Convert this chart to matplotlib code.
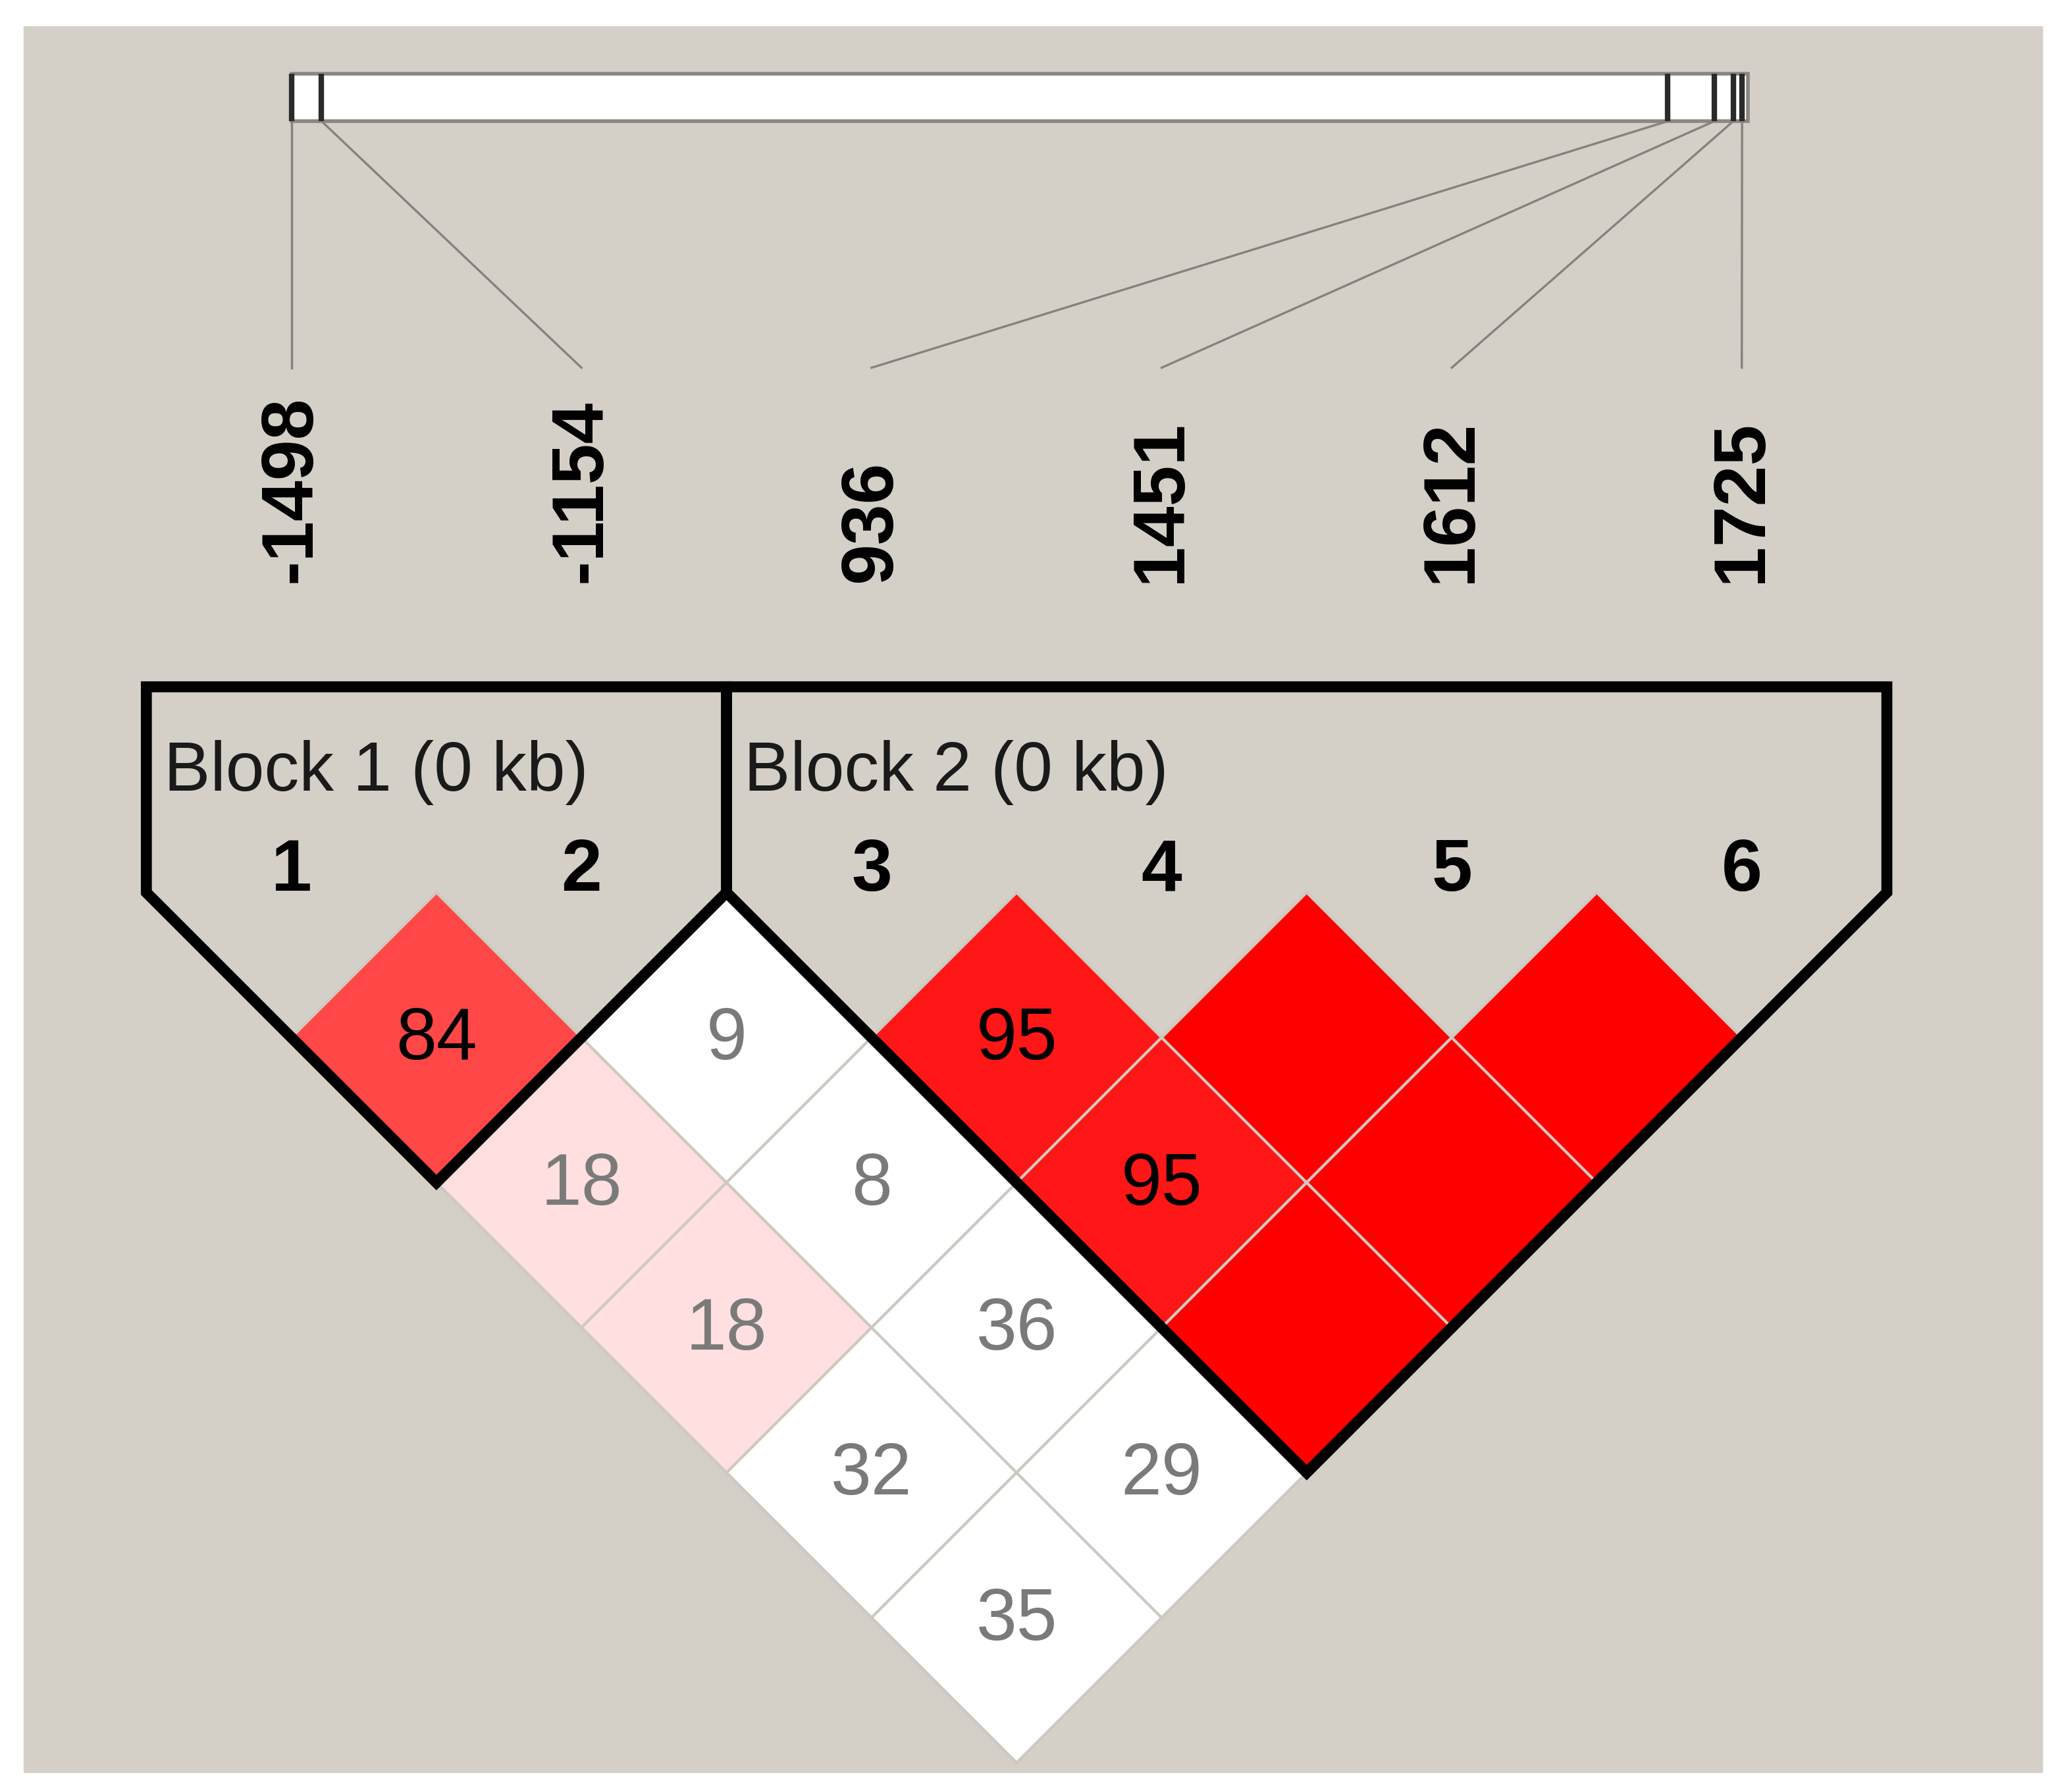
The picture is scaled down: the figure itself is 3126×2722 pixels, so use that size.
import matplotlib
matplotlib.use('Agg')
import matplotlib.pyplot as plt
from matplotlib.patches import Polygon, Rectangle

# markers (names are positions as printed above the plot)
marker_names = ['-1498', '-1154', '936', '1451', '1612', '1725']
marker_ids = [1, 2, 3, 4, 5, 6]
# where each marker sits on the physical map bar (fraction of bar length)
bar_frac = [0.0, 0.0207, 0.945, 0.977, 0.990, 0.996]

# pairwise D' (x100) and whether LOD >= 2
pair_a = [1, 1, 1, 1, 1, 2, 2, 2, 2, 3, 3, 3, 4, 4, 5]
pair_b = [2, 3, 4, 5, 6, 3, 4, 5, 6, 4, 5, 6, 5, 6, 6]
dprime = [84, 18, 18, 32, 35, 9, 8, 36, 29, 95, 95, 100, 100, 100, 100]
lod_ok = [1, 1, 1, 0, 0, 0, 0, 0, 0, 1, 1, 1, 1, 1, 1]

# haplotype blocks (first marker, last marker)
block_start = [1, 3]
block_end = [2, 6]
block_names = ['Block 1 (0 kb)', 'Block 2 (0 kb)']

BG = '#d4d0c8'
GRID = '#cdc9c1'
W, H = 3126, 2722

fig = plt.figure(figsize=(W / 100, H / 100), dpi=100)
fig.patch.set_facecolor('white')
fig.patches.append(Rectangle((36 / W, 1 - 2692 / H), (3102 - 36) / W, (2692 - 40) / H,
                             transform=fig.transFigure, color=BG, zorder=-5))

ax = fig.add_axes([0, 0, 1, 1])
ax.set_zorder(1)
ax.patch.set_visible(False)
ax.set_xlim(-0.0045, 7.090)
ax.set_ylim(3.101, -3.0767)
ax.axis('off')

# physical map bar
bar_left = marker_ids[0]
bar_right = marker_ids[-1] + 0.021
bar_top, bar_bot = -2.823, -2.659
ax.add_patch(Rectangle((bar_left, bar_top), bar_right - bar_left, bar_bot - bar_top,
                       facecolor='white', edgecolor='#8a8782', lw=4, zorder=2))
label_top = -1.809
for k, m in enumerate(marker_ids):
    tx = bar_left + bar_frac[k] * (bar_right - bar_left)
    ax.plot([tx, tx], [bar_top, bar_bot], color='#2a2a2a', lw=6, zorder=3,
            solid_capstyle='butt')
    ax.plot([tx, m], [bar_bot, label_top], color='#85827c', lw=2.4, zorder=2)
    ax.text(m, -1.068, marker_names[k], rotation=90, ha='center', va='bottom',
            fontsize=80, fontweight='bold', family='Liberation Sans', color='black')
    ax.text(m, -0.005, str(m), ha='center', va='baseline',
            fontsize=80, fontweight='bold', family='Liberation Sans', color='black')

# LD diamonds
for a, b, d, ok in zip(pair_a, pair_b, dprime, lod_ok):
    cx, cy = (a + b) / 2, (b - a) / 2
    if ok:
        g = min(223, 446 * (1 - d / 100)) / 255
        fc = (1, g, g)
    else:
        g = 1
        fc = 'white'
    ax.add_patch(Polygon([(cx, cy - 0.5), (cx + 0.5, cy), (cx, cy + 0.5), (cx - 0.5, cy)],
                         closed=True, facecolor=fc, edgecolor=GRID, lw=3, zorder=4))
    if d < 100:
        tc = 'black' if g < 0.5 else '#7a7a7a'
        ax.text(cx, cy + 0.01, str(d), ha='center', va='center', fontsize=80,
                family='Liberation Sans', color=tc, zorder=6)

# block outlines
top = -0.709
for s, e, name in zip(block_start, block_end, block_names):
    pts = [(s - 0.5, top), (s - 0.5, 0), ((s + e) / 2, (e - s + 1) / 2),
           (e + 0.5, 0), (e + 0.5, top)]
    ax.add_patch(Polygon(pts, closed=True, fill=False, edgecolor='black', lw=12,
                         joinstyle='miter', zorder=7))
    ax.text(s - 0.44, -0.35, name, ha='left', va='baseline', fontsize=76,
            family='Liberation Sans', color='#1a1a1a', zorder=8)

fig.savefig('out.png', dpi=100, facecolor='white')
